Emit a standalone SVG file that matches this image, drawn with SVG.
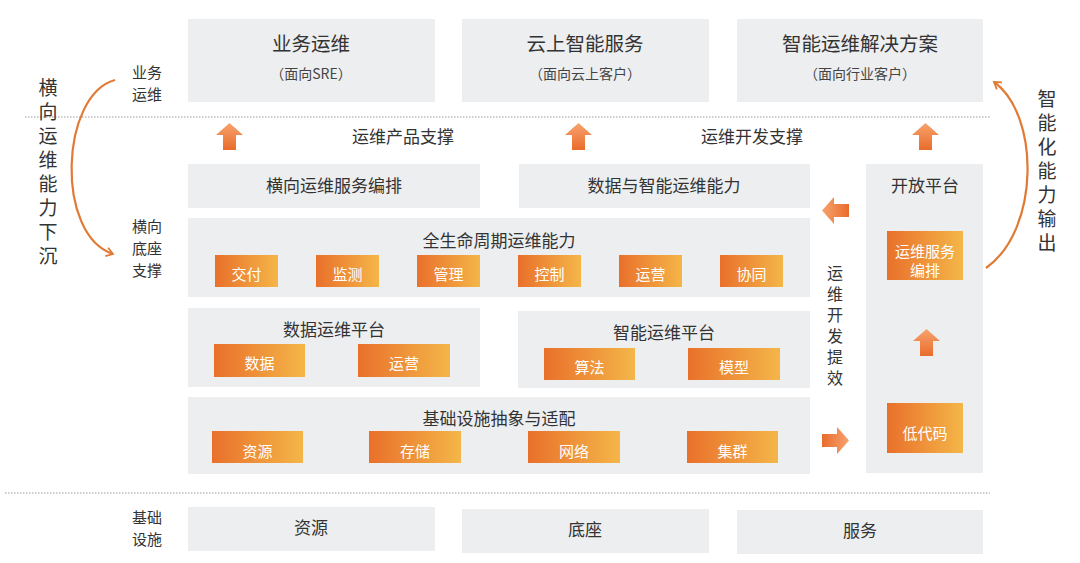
<svg xmlns="http://www.w3.org/2000/svg" width="1080" height="563" viewBox="0 0 1080 563">
<defs>
<linearGradient id="og" x1="0" y1="0" x2="1" y2="0">
<stop offset="0" stop-color="#E9702B"/>
<stop offset="1" stop-color="#F4B648"/>
</linearGradient>
<linearGradient id="ag" x1="0" y1="0" x2="0" y2="1">
<stop offset="0" stop-color="#F7A36E"/>
<stop offset="1" stop-color="#E96C2C"/>
</linearGradient>
<path id="upArrow" d="M0,12 L13.5,0 L27,12 L20,12 L20,27 L7,27 L7,12 Z" fill="url(#ag)"/>
<marker id="arcHead" viewBox="0 0 10 10" refX="7" refY="5" markerWidth="5" markerHeight="5" orient="auto" markerUnits="strokeWidth">
<path d="M1,1 L7,5 L1,9" fill="none" stroke="#E07A35" stroke-width="1.6"/>
</marker>
<style>
text{font-family:"Noto Sans CJK SC","Noto Sans",sans-serif;fill:#333;text-anchor:middle;dominant-baseline:central}
.box{fill:#EDEEF0}
.ob{fill:url(#og)}
.ot{fill:#fff;font-size:15px}
.t18{font-size:19.5px}
.t16{font-size:17px}
.t13{font-size:14px;fill:#444}
.lab{font-size:15px}
.vt{font-size:19px;writing-mode:vertical-rl;letter-spacing:5px}
.vs{font-size:16px;writing-mode:vertical-rl;letter-spacing:5px}
.dot{stroke:#999;stroke-width:1;stroke-dasharray:1.5 1.5;fill:none}
.arc{stroke:#E07A35;stroke-width:2.2;fill:none}
</style>
</defs>
<rect width="1080" height="563" fill="#fff"/>

<g id="separators">
<line class="dot" x1="25" y1="117" x2="990" y2="117"/>
<line class="dot" x1="5" y1="493" x2="990" y2="493"/>
</g>

<g id="side-labels">
<text class="lab"><tspan x="147" y="71">业务</tspan><tspan x="147" y="93">运维</tspan></text>
<text class="lab"><tspan x="147" y="225">横向</tspan><tspan x="147" y="247">底座</tspan><tspan x="147" y="269">支撑</tspan></text>
<text class="lab"><tspan x="147" y="516">基础</tspan><tspan x="147" y="538">设施</tspan></text>
<text class="vt" x="48" y="174">横向运维能力下沉</text>
<text class="vt" x="1047" y="173">智能化能力输出</text>
<text class="vs" x="835" y="328">运维开发提效</text>
<text class="t16" x="403" y="135">运维产品支撑</text>
<text class="t16" x="752" y="135">运维开发支撑</text>
</g>

<g id="top-sre">
<rect class="box" x="188" y="19" width="247" height="83"/>
<text class="t18" x="311" y="42">业务运维</text>
<text class="t13" x="311" y="73">（面向SRE）</text>
</g>
<g id="top-cloud">
<rect class="box" x="462" y="19" width="247" height="83"/>
<text class="t18" x="585" y="42">云上智能服务</text>
<text class="t13" x="585" y="73">（面向云上客户）</text>
</g>
<g id="top-solution">
<rect class="box" x="737" y="19" width="246" height="83"/>
<text class="t18" x="860" y="42">智能运维解决方案</text>
<text class="t13" x="860" y="73">（面向行业客户）</text>
</g>

<g id="service-orchestration">
<rect class="box" x="188" y="164" width="292" height="44"/>
<text class="t16" x="334" y="184">横向运维服务编排</text>
</g>
<g id="data-ai-capability">
<rect class="box" x="519" y="164" width="291" height="44"/>
<text class="t16" x="664" y="184">数据与智能运维能力</text>
</g>

<g id="lifecycle">
<rect class="box" x="188" y="218" width="622" height="79"/>
<text class="t16" x="499" y="239">全生命周期运维能力</text>
<rect class="ob" x="215" y="255" width="63" height="32"/><text class="ot" x="246.5" y="273">交付</text>
<rect class="ob" x="316" y="255" width="63" height="32"/><text class="ot" x="347.5" y="273">监测</text>
<rect class="ob" x="417" y="255" width="63" height="32"/><text class="ot" x="448.5" y="273">管理</text>
<rect class="ob" x="518" y="255" width="63" height="32"/><text class="ot" x="549.5" y="273">控制</text>
<rect class="ob" x="619" y="255" width="63" height="32"/><text class="ot" x="650.5" y="273">运营</text>
<rect class="ob" x="720" y="255" width="63" height="32"/><text class="ot" x="751.5" y="273">协同</text>
</g>

<g id="data-platform">
<rect class="box" x="188" y="308" width="292" height="79"/>
<text class="t16" x="334" y="328">数据运维平台</text>
<rect class="ob" x="214" y="344" width="91" height="33"/><text class="ot" x="259.5" y="362">数据</text>
<rect class="ob" x="358" y="344" width="92" height="33"/><text class="ot" x="404" y="362">运营</text>
</g>
<g id="ai-platform">
<rect class="box" x="518" y="311" width="292" height="77"/>
<text class="t16" x="664" y="331">智能运维平台</text>
<rect class="ob" x="544" y="348" width="91" height="32"/><text class="ot" x="589.5" y="366">算法</text>
<rect class="ob" x="688" y="348" width="92" height="32"/><text class="ot" x="734" y="366">模型</text>
</g>

<g id="infra-abstraction">
<rect class="box" x="188" y="397" width="622" height="77"/>
<text class="t16" x="499" y="417">基础设施抽象与适配</text>
<rect class="ob" x="212" y="431" width="91" height="32"/><text class="ot" x="257.5" y="450">资源</text>
<rect class="ob" x="369" y="431" width="92" height="32"/><text class="ot" x="415" y="450">存储</text>
<rect class="ob" x="528" y="431" width="92" height="32"/><text class="ot" x="574" y="450">网络</text>
<rect class="ob" x="687" y="431" width="91" height="32"/><text class="ot" x="732.5" y="450">集群</text>
</g>

<g id="open-platform">
<rect class="box" x="866" y="164" width="117" height="309"/>
<text class="t16" x="925" y="184">开放平台</text>
<rect class="ob" x="887" y="231" width="76" height="49"/>
<text class="ot"><tspan x="925" y="250">运维服务</tspan><tspan x="925" y="269">编排</tspan></text>
<rect class="ob" x="887" y="403" width="76" height="50"/>
<text class="ot" x="925" y="432">低代码</text>
</g>

<g id="bottom-resource">
<rect class="box" x="188" y="507" width="247" height="44"/>
<text class="t16" x="311" y="526">资源</text>
</g>
<g id="bottom-base">
<rect class="box" x="462" y="509" width="247" height="44"/>
<text class="t16" x="585" y="528">底座</text>
</g>
<g id="bottom-service">
<rect class="box" x="737" y="510" width="246" height="44"/>
<text class="t16" x="860" y="529">服务</text>
</g>

<g id="connectors">
<use href="#upArrow" x="216" y="123"/>
<use href="#upArrow" x="565" y="123"/>
<use href="#upArrow" x="912" y="123"/>
<use href="#upArrow" x="913" y="329"/>
<use href="#upArrow" transform="translate(822,224) rotate(-90)"/>
<use href="#upArrow" transform="translate(849,427) rotate(90)"/>
<path class="arc" d="M115,80 C60,95 55,235 113,254" marker-end="url(#arcHead)"/>
<path class="arc" d="M986,268 C1040,230 1040,115 994,82" marker-end="url(#arcHead)"/>
</g>
</svg>
